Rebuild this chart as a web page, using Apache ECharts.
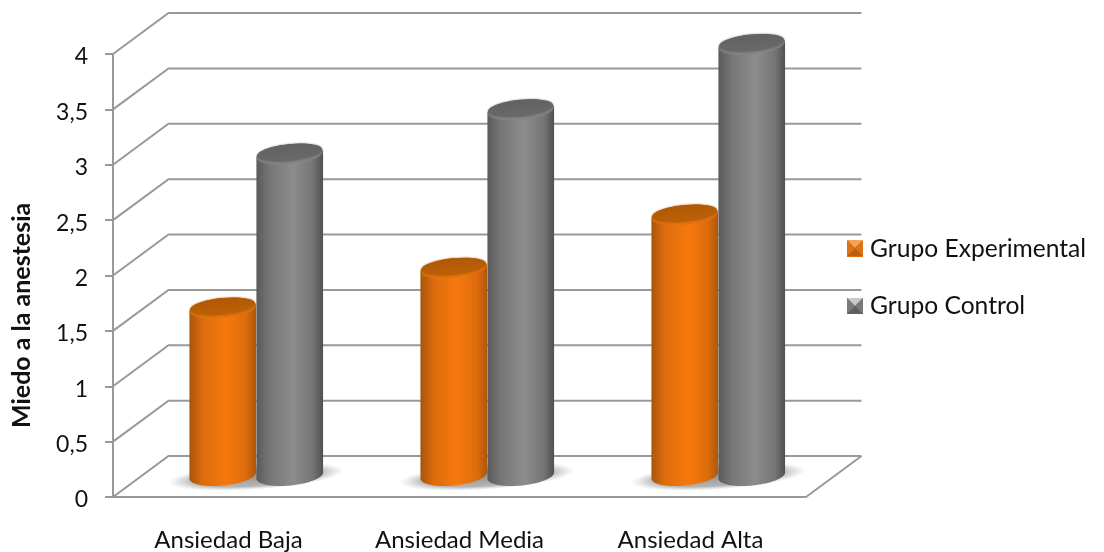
<!DOCTYPE html>
<html>
<head>
<meta charset="utf-8">
<style>html,body{margin:0;padding:0;background:#fff}#chart{width:1104px;height:552px}</style>
<script src="https://cdn.jsdelivr.net/npm/echarts@6/dist/echarts.min.js"></script>
</head>
<body>
<div id="chart"></div>
<script>
// Miedo a la anestesia por nivel de ansiedad y grupo
const categories = ['Ansiedad Baja', 'Ansiedad Media', 'Ansiedad Alta'];
const grupoExperimental = [1.51, 1.87, 2.35];
const grupoControl = [2.9, 3.3, 3.89];
const yTicks = [0, 0.5, 1, 1.5, 2, 2.5, 3, 3.5, 4];

// Oblique projection of the chart box: how far the back wall sits from the front plane
const DEPTH_X = 55.5;
const DEPTH_Y = -41;
const LINE = '#999999';
const FONT = 'Lato';

const chart = echarts.init(document.getElementById('chart'));

function linear(stops) {
  return new echarts.graphic.LinearGradient(0, 0, 1, 0,
    stops.map(s => ({ offset: s[0], color: s[1] })));
}
function vertical(top, bottom) {
  return new echarts.graphic.LinearGradient(0, 0, 0, 1,
    [{ offset: 0, color: top }, { offset: 1, color: bottom }]);
}

// Gridlines on the side and back walls, plus the floor's right edge
function renderWall(params, api) {
  const p = api.coord([0, api.value(0)]);
  const band = api.size([1, 0])[0];
  const left = p[0] - band / 2;
  const right = left + band * categories.length;
  const y = p[1];
  const children = [{
    type: 'polyline',
    shape: { points: [[left, y], [left + DEPTH_X, y + DEPTH_Y], [right + DEPTH_X, y + DEPTH_Y]] },
    style: { fill: null, stroke: LINE, lineWidth: 2 }
  }];
  if (api.value(0) === 0) {
    children.push({
      type: 'line',
      shape: { x1: right, y1: y, x2: right + DEPTH_X, y2: y + DEPTH_Y },
      style: { stroke: LINE, lineWidth: 2 }
    });
  }
  return { type: 'group', children };
}

// Soft shadow cast on the floor under each pair of columns: a unit circle
// with a fading radial fill, flattened into a slightly tilted ellipse
function renderShadow(params, api) {
  const p = api.coord([api.value(0), 0]);
  return {
    type: 'circle',
    shape: { cx: 0, cy: 0, r: 1 },
    x: p[0] + DEPTH_X / 2,
    y: p[1] + DEPTH_Y / 2,
    scaleX: 88,
    scaleY: 13,
    rotation: 0.07,
    style: {
      fill: new echarts.graphic.RadialGradient(0.5, 0.5, 0.5, [
        { offset: 0, color: 'rgba(125,125,125,0.8)' },
        { offset: 0.72, color: 'rgba(135,135,135,0.62)' },
        { offset: 1, color: 'rgba(170,170,170,0)' }
      ])
    }
  };
}

// A cylinder standing half way into the box depth
function cylinderRenderer(side, palette) {
  const TILT = 0.1;
  return function (params, api) {
    const base = api.coord([api.value(0), 0]);
    const top = api.coord([api.value(0), api.value(1)]);
    const band = api.size([1, 0])[0];
    const rx = band * 0.145;
    const ry = 10;
    const cx = base[0] + DEPTH_X / 2 + side * rx;
    const yBase = base[1] + DEPTH_Y / 2 - 1;
    const yTop = top[1] + DEPTH_Y / 2 - 1;
    const pts = [];
    for (let i = 0; i <= 48; i++) {
      const t = Math.PI * i / 48;
      const ex = rx * Math.cos(t), ey = ry * Math.sin(t);
      pts.push([cx + ex * Math.cos(TILT) + ey * Math.sin(TILT),
                yBase - ex * Math.sin(TILT) + ey * Math.cos(TILT)]);
    }
    const capLeft = [pts[48][0], yTop + (pts[48][1] - yBase)];
    const capRight = [pts[0][0], yTop + (pts[0][1] - yBase)];
    const cap = (dy, shrinkX, shrinkY, style) => ({
      type: 'ellipse',
      shape: { cx, cy: yTop + dy, rx: rx - shrinkX, ry: ry - shrinkY },
      rotation: TILT,
      originX: cx,
      originY: yTop + dy,
      style
    });
    return {
      type: 'group',
      children: [
        {
          type: 'polygon',
          shape: { points: [capRight].concat(pts, [capLeft]) },
          style: { fill: linear(palette.body) }
        },
        cap(0, 0, 0, { fill: palette.rim }),
        cap(-1.8, 1, 1.6, {
          fill: vertical(palette.capTop, palette.capBottom),
          shadowBlur: 2,
          shadowColor: palette.capBottom
        })
      ]
    };
  };
}

const orange = {
  body: [[0, '#a8550c'], [0.2, '#dc6c0c'], [0.55, '#f7790c'], [0.85, '#dc6c0c'], [1, '#ad570a']],
  rim: vertical('#b05806', '#e8740e'),
  capTop: '#b05805',
  capBottom: '#bd6106'
};
const gray = {
  body: [[0, '#5a5a5a'], [0.2, '#767676'], [0.55, '#8c8c8c'], [0.85, '#757575'], [1, '#505050']],
  rim: vertical('#626262', '#868686'),
  capTop: '#616161',
  capBottom: '#6a6a6a'
};

// Data for a custom series: [category index, value]
const indexed = values => values.map((v, i) => [i, v]);

// Facets of the pyramid-shaped legend keys: top, right, bottom, left
function legendKey(x, y, s, facets) {
  const c = [x + s / 2, y + s / 2];
  const corners = [[x, y], [x + s, y], [x + s, y + s], [x, y + s]];
  return facets.map((fill, i) => ({
    type: 'polygon',
    z: 100,
    shape: { points: [corners[i], corners[(i + 1) % 4], c] },
    style: { fill }
  }));
}

chart.setOption({
  animation: false,
  backgroundColor: '#fff',
  textStyle: { fontFamily: FONT },
  grid: { left: 113, right: 298, top: 54, bottom: 55, outerBoundsMode: 'none' },
  xAxis: {
    type: 'category',
    data: categories,
    axisLine: { lineStyle: { color: LINE, width: 2 } },
    axisTick: { alignWithLabel: false, length: 8, lineStyle: { color: LINE, width: 2 } },
    axisLabel: { color: '#111', fontSize: 24, fontFamily: FONT, margin: 31 }
  },
  yAxis: {
    type: 'value',
    min: 0,
    max: 4,
    interval: 0.5,
    splitLine: { show: false },
    axisLine: { show: true, lineStyle: { color: LINE, width: 2 } },
    axisTick: { show: true, length: 8, lineStyle: { color: LINE, width: 2 } },
    axisLabel: {
      margin: 25,
      formatter: v => '{n|' + String(v).replace('.', ',') + '}',
      rich: {
        n: { color: '#111', fontSize: 23, fontFamily: FONT, padding: [6, 0, 0, 0] }
      }
    }
  },
  legend: {
    orient: 'vertical',
    left: 847,
    top: 235,
    padding: 0,
    itemWidth: 16,
    itemHeight: 16,
    itemGap: 29,
    selectedMode: false,
    textStyle: { color: '#111', fontSize: 24.6, lineHeight: 28, fontFamily: FONT, padding: [0, 0, 0, 2] },
    data: [
      { name: 'Grupo Experimental', icon: 'rect', itemStyle: { color: '#e0700f' } },
      { name: 'Grupo Control', icon: 'rect', itemStyle: { color: '#6e6e6e' } }
    ]
  },
  graphic: [
    {
      type: 'text',
      x: 9,
      y: 428,
      rotation: Math.PI / 2,
      style: { text: 'Miedo a la anestesia', fill: '#111', font: 'bold 25px ' + FONT }
    }
  ].concat(
    legendKey(847, 240, 16, ['#f8a254', '#d9731a', '#b9600f', '#d9731a']),
    legendKey(847, 298, 16, ['#c9c9c9', '#7a7a7a', '#5f5f5f', '#7a7a7a'])
  ),
  series: [
    {
      name: 'Pared',
      type: 'custom',
      silent: true,
      renderItem: renderWall,
      encode: { y: 0 },
      data: yTicks.map(v => [v]),
      z: 1
    },
    {
      name: 'Sombra',
      type: 'custom',
      silent: true,
      renderItem: renderShadow,
      encode: { x: 0 },
      data: categories.map((c, i) => [i]),
      z: 2
    },
    {
      name: 'Grupo Experimental',
      type: 'custom',
      renderItem: cylinderRenderer(-1, orange),
      encode: { x: 0, y: 1 },
      data: indexed(grupoExperimental),
      itemStyle: { color: '#e0700f' },
      z: 3
    },
    {
      name: 'Grupo Control',
      type: 'custom',
      renderItem: cylinderRenderer(1, gray),
      encode: { x: 0, y: 1 },
      data: indexed(grupoControl),
      itemStyle: { color: '#6e6e6e' },
      z: 4
    }
  ]
});
</script>
</body>
</html>
